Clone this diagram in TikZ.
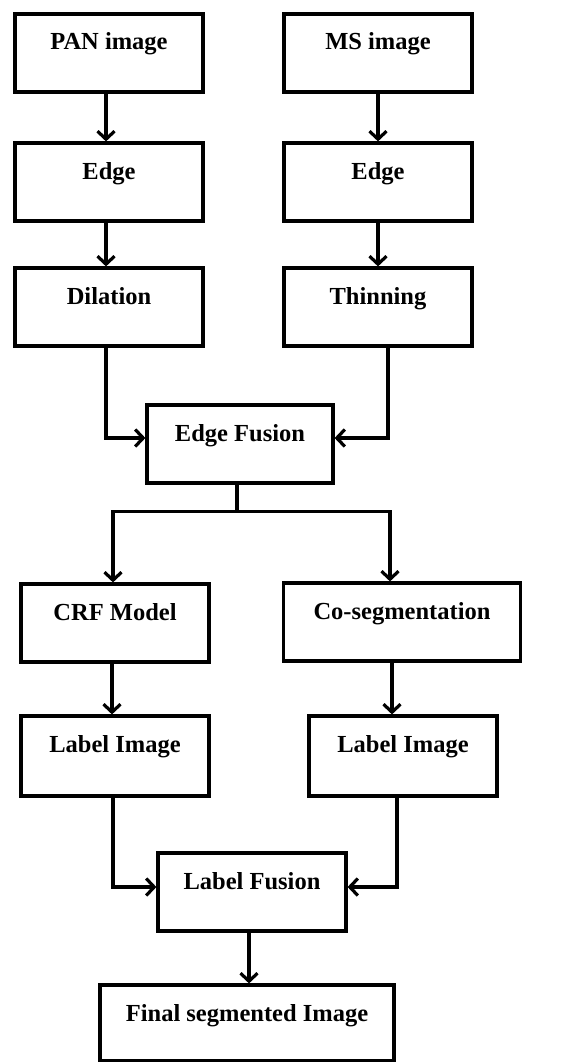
\documentclass[tikz,border=0pt]{standalone}
\usepackage{fontspec}
\setmainfont{Liberation Serif}
\usetikzlibrary{arrows.meta}
\tikzset{
    blk/.style = {rectangle, draw=black, line width=3.2pt, inner sep=0pt, align=center,
        font=\fontsize{24.5}{28}\selectfont\bfseries, minimum width=188pt,
        text height=36pt, text depth=42pt},
    flow/.style = {line width=3.2pt, ->}
}
\begin{document}
\begin{tikzpicture}[x=1pt, y=-1pt, >={Straight Barb[length=8pt,width=17pt]}]
    \useasboundingbox (0,0) rectangle (570,1062);
    % upper part
    \node [blk] (pan) at (109,53) {PAN image};
    \node [blk] (ms) at (378,53) {MS image};
    \node [blk] (edgel) at (109,182) {Edge};
    \node [blk] (edger) at (378,182) {Edge};
    \node [blk] (dil) at (109,307) {Dilation};
    \node [blk] (thin) at (378,307) {Thinning};
    \node [blk, minimum width=186pt] (efus) at (240,444) {Edge Fusion};
    % lower part
    \node [blk] (crf) at (115,623) {CRF Model};
    \node [blk, minimum width=237pt] (coseg) at (402,622) {Co-segmentation};
    \node [blk, text depth=44pt] (labl) at (115,756) {Label Image};
    \node [blk, text depth=44pt] (labr) at (403,756) {Label Image};
    \node [blk] (lfus) at (252,892) {Label Fusion};
    \node [blk, minimum width=294pt, text depth=40pt] (final) at (247,1023) {Final segmented Image};
    \coordinate (split) at ([yshift=-27pt]efus.south);

    \draw [flow] ([xshift=-3pt]pan.south) -- ([xshift=-3pt]edgel.north);
    \draw [flow] (ms) -- (edger);
    \draw [flow] ([xshift=-3pt]edgel.south) -- ([xshift=-3pt]dil.north);
    \draw [flow] (edger) -- (thin);
    \draw [flow] ([xshift=-3pt]dil.south) |- ([yshift=6pt]efus.west);
    \draw [flow] ([xshift=10pt]thin.south) |- ([yshift=6pt]efus.east);
    \draw [line width=3.2pt] ([xshift=-3pt]efus.south) -- ([xshift=-3pt]split);
    \draw [flow] ([xshift=-3pt]split) -| ([xshift=-2pt]crf.north);
    \draw [flow] ([xshift=-3pt]split) -| ([xshift=-12pt]coseg.north);
    \draw [flow] ([xshift=-3pt]crf.south) -- ([xshift=-3pt]labl.north);
    \draw [flow] ([xshift=-10pt]coseg.south) -- ([xshift=-10pt]coseg.south |- labr.north);
    \draw [flow] ([xshift=-2pt]labl.south) |- ([yshift=5pt]lfus.west);
    \draw [flow] ([xshift=-6pt]labr.south) |- ([yshift=5pt]lfus.east);
    \draw [flow] ([xshift=-3pt]lfus.south) -- ([xshift=-3pt]lfus.south |- final.north);
\end{tikzpicture}
\end{document}
